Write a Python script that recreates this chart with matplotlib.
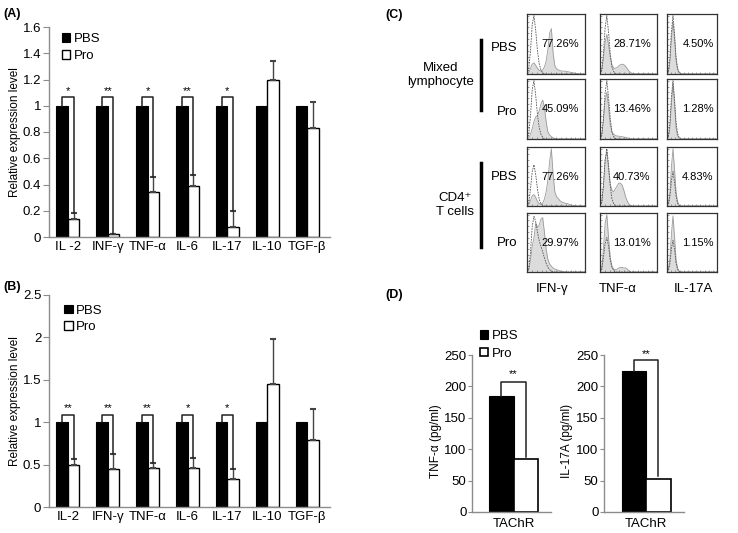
import numpy as np
import matplotlib
matplotlib.use('Agg')
import matplotlib.pyplot as plt

plt.rcParams['font.family'] = ['Liberation Sans', 'DejaVu Sans']

# ---------------- data ----------------
cyto_A = ['IL -2', 'INF-γ', 'TNF-α', 'IL-6', 'IL-17', 'IL-10', 'TGF-β']
pbs_A = [1, 1, 1, 1, 1, 1, 1]
pro_A = [0.14, 0.02, 0.34, 0.39, 0.08, 1.20, 0.83]
err_A = [0.04, 0.005, 0.12, 0.08, 0.12, 0.14, 0.20]
sig_A = ['*', '**', '*', '**', '*', '', '']
yticks_A = [0, 0.2, 0.4, 0.6, 0.8, 1.0, 1.2, 1.4, 1.6]
ylabels_A = ['0', '0.2', '0.4', '0.6', '0.8', '1', '1.2', '1.4', '1.6']

cyto_B = ['IL-2', 'IFN-γ', 'TNF-α', 'IL-6', 'IL-17', 'IL-10', 'TGF-β']
pbs_B = [1, 1, 1, 1, 1, 1, 1]
pro_B = [0.49, 0.45, 0.46, 0.46, 0.33, 1.45, 0.79]
err_B = [0.08, 0.17, 0.06, 0.12, 0.12, 0.53, 0.37]
sig_B = ['**', '**', '**', '*', '*', '', '']
yticks_B = [0, 0.5, 1.0, 1.5, 2.0, 2.5]
ylabels_B = ['0', '0.5', '1', '1.5', '2', '2.5']

hist_x = [0, .03, .06, .09, .12, .15, .18, .21, .24, .27, .30, .33, .36, .39,
          .42, .45, .48, .51, .54, .57, .60, .65, .70, .75, .80, .85, .90, 1.0]

mix_pbs_ifn_fill = [0, .02, .10, .17, .19, .15, .10, .06, .05, .07, .12, .22, .42, .70,
                    .78, .36, .14, .09, .07, .06, .05, .05, .04, .03, .02, .01, 0, 0]
mix_pbs_ifn_iso = [0, .08, .40, .85, 1.0, .75, .40, .18, .07, .02, 0, 0, 0, 0,
                   0, 0, 0, 0, 0, 0, 0, 0, 0, 0, 0, 0, 0, 0]
mix_pbs_tnf_fill = [0, .05, .25, .55, .68, .50, .28, .15, .10, .10, .11, .14, .16, .17,
                    .16, .13, .09, .05, .02, .01, 0, 0, 0, 0, 0, 0, 0, 0]
mix_pbs_tnf_iso = [0, .06, .35, .80, 1.0, .72, .35, .12, .04, .01, 0, 0, 0, 0,
                   0, 0, 0, 0, 0, 0, 0, 0, 0, 0, 0, 0, 0, 0]
mix_pbs_il17_fill = [0, .03, .20, .60, .90, .60, .25, .08, .03, .01, 0, 0, 0, 0,
                     0, 0, 0, 0, 0, 0, 0, 0, 0, 0, 0, 0, 0, 0]
mix_pbs_il17_iso = [0, .05, .30, .75, 1.0, .70, .30, .10, .03, 0, 0, 0, 0, 0,
                    0, 0, 0, 0, 0, 0, 0, 0, 0, 0, 0, 0, 0, 0]

mix_pro_ifn_fill = [0, .02, .08, .18, .30, .38, .40, .48, .60, .67, .55, .30, .12, .07,
                    .04, .02, .01, 0, 0, 0, 0, 0, 0, 0, 0, 0, 0, 0]
mix_pro_ifn_iso = [0, .08, .40, .85, 1.0, .75, .42, .20, .08, .03, 0, 0, 0, 0,
                   0, 0, 0, 0, 0, 0, 0, 0, 0, 0, 0, 0, 0, 0]
mix_pro_tnf_fill = [0, .05, .30, .65, .80, .55, .25, .12, .08, .06, .05, .05, .04, .04,
                    .03, .03, .02, .01, 0, 0, 0, 0, 0, 0, 0, 0, 0, 0]
mix_pro_tnf_iso = [0, .06, .35, .80, 1.0, .72, .35, .12, .04, .01, 0, 0, 0, 0,
                   0, 0, 0, 0, 0, 0, 0, 0, 0, 0, 0, 0, 0, 0]
mix_pro_il17_fill = [0, .03, .20, .60, .95, .60, .20, .06, .02, 0, 0, 0, 0, 0,
                     0, 0, 0, 0, 0, 0, 0, 0, 0, 0, 0, 0, 0, 0]
mix_pro_il17_iso = [0, .05, .30, .75, 1.0, .70, .30, .10, .03, 0, 0, 0, 0, 0,
                    0, 0, 0, 0, 0, 0, 0, 0, 0, 0, 0, 0, 0, 0]

cd4_pbs_ifn_fill = [0, .02, .10, .18, .20, .15, .08, .04, .03, .05, .12, .25, .45, .78,
                    1.0, .55, .25, .16, .13, .09, .07, .05, .04, .02, .01, 0, 0, 0]
cd4_pbs_ifn_iso = [0, .05, .30, .60, .72, .55, .30, .12, .04, .01, 0, 0, 0, 0,
                   0, 0, 0, 0, 0, 0, 0, 0, 0, 0, 0, 0, 0, 0]
cd4_pbs_tnf_fill = [0, .05, .35, .80, .95, .65, .38, .27, .25, .30, .35, .40, .40, .36,
                    .27, .16, .08, .03, .01, 0, 0, 0, 0, 0, 0, 0, 0, 0]
cd4_pbs_tnf_iso = [0, .06, .35, .80, 1.0, .72, .35, .12, .04, .01, 0, 0, 0, 0,
                   0, 0, 0, 0, 0, 0, 0, 0, 0, 0, 0, 0, 0, 0]
cd4_pbs_il17_fill = [0, .04, .25, .70, 1.0, .65, .25, .08, .02, 0, 0, 0, 0, 0,
                     0, 0, 0, 0, 0, 0, 0, 0, 0, 0, 0, 0, 0, 0]
cd4_pbs_il17_iso = [0, .03, .18, .45, .60, .42, .18, .05, .01, 0, 0, 0, 0, 0,
                    0, 0, 0, 0, 0, 0, 0, 0, 0, 0, 0, 0, 0, 0]

cd4_pro_ifn_fill = [0, .03, .20, .45, .60, .85, .78, .82, .92, .95, .70, .40, .22, .14,
                    .10, .07, .05, .04, .03, .02, .01, 0, 0, 0, 0, 0, 0, 0]
cd4_pro_ifn_iso = [0, .05, .35, .80, .97, .88, .70, .55, .45, .35, .25, .15, .08, .04,
                   .02, 0, 0, 0, 0, 0, 0, 0, 0, 0, 0, 0, 0, 0]
cd4_pro_tnf_fill = [0, .05, .40, .85, 1.0, .60, .25, .10, .05, .04, .05, .07, .08, .08,
                    .07, .07, .05, .02, 0, 0, 0, 0, 0, 0, 0, 0, 0, 0]
cd4_pro_tnf_iso = [0, .04, .25, .50, .60, .45, .20, .08, .03, 0, 0, 0, 0, 0,
                   0, 0, 0, 0, 0, 0, 0, 0, 0, 0, 0, 0, 0, 0]
cd4_pro_il17_fill = [0, .04, .25, .68, .98, .62, .22, .07, .02, 0, 0, 0, 0, 0,
                     0, 0, 0, 0, 0, 0, 0, 0, 0, 0, 0, 0, 0, 0]
cd4_pro_il17_iso = [0, .03, .16, .42, .55, .40, .16, .05, .01, 0, 0, 0, 0, 0,
                    0, 0, 0, 0, 0, 0, 0, 0, 0, 0, 0, 0, 0, 0]

hist_fill = [[mix_pbs_ifn_fill, mix_pbs_tnf_fill, mix_pbs_il17_fill],
             [mix_pro_ifn_fill, mix_pro_tnf_fill, mix_pro_il17_fill],
             [cd4_pbs_ifn_fill, cd4_pbs_tnf_fill, cd4_pbs_il17_fill],
             [cd4_pro_ifn_fill, cd4_pro_tnf_fill, cd4_pro_il17_fill]]
hist_iso = [[mix_pbs_ifn_iso, mix_pbs_tnf_iso, mix_pbs_il17_iso],
            [mix_pro_ifn_iso, mix_pro_tnf_iso, mix_pro_il17_iso],
            [cd4_pbs_ifn_iso, cd4_pbs_tnf_iso, cd4_pbs_il17_iso],
            [cd4_pro_ifn_iso, cd4_pro_tnf_iso, cd4_pro_il17_iso]]
pct_labels = [['77.26%', '28.71%', '4.50%'],
              ['45.09%', '13.46%', '1.28%'],
              ['77.26%', '40.73%', '4.83%'],
              ['29.97%', '13.01%', '1.15%']]
hist_cols = ['IFN-γ', 'TNF-α', 'IL-17A']
hist_rows = ['PBS', 'Pro', 'PBS', 'Pro']
hist_groups = ['Mixed\nlymphocyte', 'CD4⁺\nT cells']

d_cat = ['TAChR']
d_tnf_pbs = [185]
d_tnf_pro = [84]
d_tnf_sig = ['**']
d_il17_pbs = [225]
d_il17_pro = [53]
d_il17_sig = ['**']
d_yticks = [0, 50, 100, 150, 200, 250]

# ---------------- layout helpers ----------------
W, H = 738, 533
fig = plt.figure(figsize=(W / 100, H / 100), dpi=100)


def rect(l, t, r, b):
    return [l / W, 1 - b / H, (r - l) / W, (b - t) / H]


GRAY = '#8c8c8c'


def style_bar_axes(ax):
    for s in ['top', 'right']:
        ax.spines[s].set_visible(False)
    for s in ['left', 'bottom']:
        ax.spines[s].set_color(GRAY)
        ax.spines[s].set_linewidth(1.0)
    ax.tick_params(axis='y', colors=GRAY, length=4, width=0.8, pad=1.5,
                   labelcolor='black', labelsize=9.5)
    ax.tick_params(axis='x', length=0, pad=3, labelsize=9.5, labelcolor='black')


def bar_panel(ax, cats, pbs, pro, err, sig, ylim, yticks, ylabels, br_y, star_y):
    x = np.arange(len(cats))
    w = 0.29
    ax.bar(x - w / 2, pbs, w, color='black', edgecolor='black', lw=0.8, label='PBS')
    ax.bar(x + w / 2, pro, w, color='white', edgecolor='black', lw=1.0, label='Pro')
    ax.errorbar(x + w / 2, pro, yerr=[np.zeros(len(pro)), err], fmt='none',
                ecolor='#444', elinewidth=1.0, capsize=2.2, capthick=1.5)
    for i, s in enumerate(sig):
        if s:
            top = pro[i] + err[i]
            ax.plot([x[i] - w / 2, x[i] - w / 2, x[i] + w / 2, x[i] + w / 2],
                    [pbs[i], br_y, br_y, top], color='#222', lw=1.1)
            ax.text(x[i], star_y, s, ha='center', va='center', fontsize=8)
    ax.set_xlim(-0.47, 6.57)
    ax.set_ylim(*ylim)
    ax.set_yticks(yticks)
    ax.set_yticklabels(ylabels)
    ax.set_xticks(x)
    ax.set_xticklabels(cats)
    ax.set_ylabel('Relative expression level', fontsize=8.5, va='center')
    ax.yaxis.set_label_coords(-0.121, 0.5)
    style_bar_axes(ax)


# ---------------- panel A ----------------
axA = fig.add_axes(rect(49, 27, 330, 237))
bar_panel(axA, cyto_A, pbs_A, pro_A, err_A, sig_A, (0, 1.6), yticks_A, ylabels_A, 1.068, 1.115)
axA.legend(loc='upper left', bbox_to_anchor=(0.045, 0.972), frameon=False, fontsize=9.5,
           handlelength=0.65, handleheight=0.65, handletextpad=0.25, labelspacing=0.4,
           borderaxespad=0, borderpad=0)
fig.text(3 / W, 1 - 14 / H, '(A)', fontsize=9, fontweight='bold', va='center', ha='left')

# ---------------- panel B ----------------
axB = fig.add_axes(rect(49, 295, 330, 507))
bar_panel(axB, cyto_B, pbs_B, pro_B, err_B, sig_B, (0, 2.5), yticks_B, ylabels_B, 1.085, 1.17)
axB.legend(loc='upper left', bbox_to_anchor=(0.055, 0.955), frameon=False, fontsize=9.5,
           handlelength=0.65, handleheight=0.65, handletextpad=0.25, labelspacing=0.35,
           borderaxespad=0, borderpad=0)
fig.text(3 / W, 1 - 287 / H, '(B)', fontsize=9, fontweight='bold', va='center', ha='left')

# ---------------- panel C ----------------
fig.text(385 / W, 1 - 15 / H, '(C)', fontsize=9, fontweight='bold', va='center', ha='left')
col_px = [(527, 585), (600, 657), (667, 717)]
row_px = [(14, 74), (79, 139), (147, 206), (213, 272)]
pct_x = [0.58, 0.56, 0.62]
for r, (t, b) in enumerate(row_px):
    for c, (l, rr) in enumerate(col_px):
        ax = fig.add_axes(rect(l, t, rr, b))
        ax.fill_between(hist_x, hist_fill[r][c], color='#dcdcdc', lw=0)
        ax.plot(hist_x, hist_fill[r][c], color='#9a9a9a', lw=0.6)
        ax.plot(hist_x, hist_iso[r][c], color='#555555', lw=0.6, ls=(0, (2, 1.2)))
        ax.set_xlim(0, 1)
        ax.set_ylim(0, 1.03)
        ax.set_xticks(np.linspace(0, 1, 13))
        ax.set_yticks(np.linspace(0, 1, 11))
        ax.tick_params(direction='in', length=1.5, width=0.5, colors='#777',
                       labelbottom=False, labelleft=False)
        for s in ax.spines.values():
            s.set_color('#333')
            s.set_linewidth(0.9)
        ax.text(pct_x[c], 0.5, pct_labels[r][c], transform=ax.transAxes,
                fontsize=8, ha='center', va='center')

for r, lab in enumerate(hist_rows):
    yc = [48, 112, 177, 243][r]
    fig.text(517 / W, 1 - yc / H, lab, fontsize=9.5, ha='right', va='center')
fig.add_artist(plt.Line2D([481 / W, 481 / W], [1 - 40 / H, 1 - 110 / H], color='black', lw=2.5))
fig.add_artist(plt.Line2D([481 / W, 481 / W], [1 - 163 / H, 1 - 247 / H], color='black', lw=2.5))
fig.text(441 / W, 1 - 75 / H, hist_groups[0], fontsize=9.5, ha='center', va='center',
         linespacing=1.15)
fig.text(455 / W, 1 - 205 / H, hist_groups[1], fontsize=9.5, ha='center', va='center',
         linespacing=1.15)
for c, lab in enumerate(hist_cols):
    xc = [552, 618, 693][c]
    fig.text(xc / W, 1 - 289 / H, lab, fontsize=9.5, ha='center', va='center')

# ---------------- panel D ----------------
fig.text(385 / W, 1 - 295 / H, '(D)', fontsize=9, fontweight='bold', va='center', ha='left')


def d_panel(ax, pbs, pro, sig, br_y, star_y, ylabel):
    x = np.arange(len(d_cat))
    w = 1.0
    ax.bar(x - w / 2, pbs, w, color='black', edgecolor='black', lw=0.8, label='PBS')
    ax.bar(x + w / 2, pro, w, color='white', edgecolor='black', lw=1.2, label='Pro')
    for i, s in enumerate(sig):
        ax.plot([x[i] - w / 2, x[i] - w / 2, x[i] + w / 2, x[i] + w / 2],
                [pbs[i], br_y, br_y, pro[i] + 4], color='#222', lw=1.1)
        ax.text(x[i], star_y, s, ha='center', va='center', fontsize=8)
    ax.set_xlim(-1.72, 1.55)
    ax.set_ylim(0, 250)
    ax.set_yticks(d_yticks)
    ax.set_xticks(x)
    ax.set_xticklabels(d_cat)
    style_bar_axes(ax)
    ax.tick_params(axis='y', labelsize=9.5, length=3, pad=1)
    ax.tick_params(axis='x', labelsize=9.5, pad=4)
    ax.set_ylabel(ylabel, fontsize=8.5, va='center')
    ax.yaxis.set_label_coords(-0.46, 0.45)


axD1 = fig.add_axes(rect(472, 355, 551, 512))
d_panel(axD1, d_tnf_pbs, d_tnf_pro, d_tnf_sig, 207, 220, 'TNF-α (pg/ml)')
axD1.legend(loc='lower left', bbox_to_anchor=(0.1, 0.97), frameon=False, fontsize=9.5,
            handlelength=0.65, handleheight=0.65, handletextpad=0.25, labelspacing=0.45,
            borderaxespad=0, borderpad=0)
axD2 = fig.add_axes(rect(604, 355, 684, 512))
d_panel(axD2, d_il17_pbs, d_il17_pro, d_il17_sig, 242, 252, 'IL-17A (pg/ml)')

fig.savefig('out.png', dpi=100)
